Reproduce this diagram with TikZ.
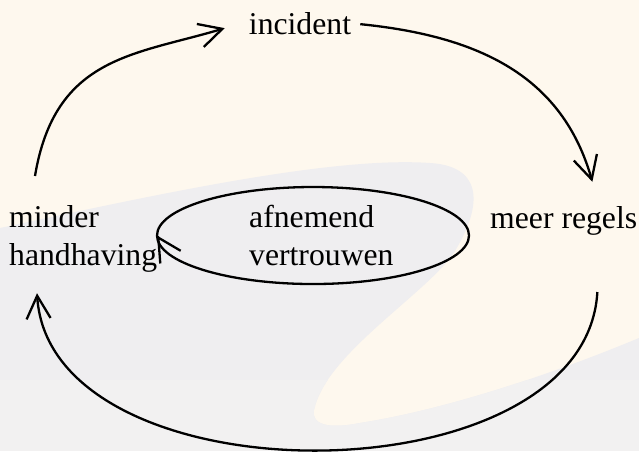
\documentclass[tikz,border=0pt]{standalone}
\usepackage{fontspec}
\setmainfont{Liberation Serif}
\usepackage{tikz}
\usetikzlibrary{arrows.meta}
\definecolor{cream}{RGB}{254,248,238}
\definecolor{swoosh}{RGB}{239,238,240}
\definecolor{swooshlow}{RGB}{242,241,241}

\begin{document}
\begin{tikzpicture}[
  x=1pt, y=1pt,
  mylabel/.style={inner sep=0pt, font=\fontsize{31.7}{38}\selectfont},
  myline/.style={line width=2.3pt},
  myarrow/.style={myline, -{Straight Barb[length=23pt, width=24pt]}},
]
\useasboundingbox (0,0) rectangle (639,451);
\fill[cream] (0,0) rectangle (639,451);
\begin{scope}
\path[clip] (0,223) .. controls (150,255) and (330,295) .. (430,288)
  .. controls (480,285) and (485,250) .. (455,200)
  .. controls (430,160) and (330,100) .. (315,45)
  .. controls (308,25) and (330,22) .. (360,28)
  .. controls (450,42) and (560,80) .. (639,113) -- (639,0) -- (0,0) -- cycle;
\fill[swoosh] (0,0) rectangle (639,451);
\fill[swooshlow] (0,0) rectangle (639,71);
\end{scope}

\node[mylabel, anchor=base] (incident) at (300,416) {incident};
\node[mylabel, anchor=base west] (regels) at (490,223) {meer regels};
\node[mylabel, anchor=north west, align=left] (minder) at (9,246) {minder\\handhaving};
\node[mylabel, anchor=north west, align=left] (trust) at (249,246) {afnemend\\vertrouwen};
\coordinate (loopend) at ([xshift=-92pt]trust.west);

\draw[myarrow] ([shift={(26,29)}]minder.north west) .. controls +(20,120) and +(-90,-27) .. ([shift={(-24,-4)}]incident.west);
\draw[myarrow] ([xshift=9pt]incident.east) .. controls +(120,-12) and +(-30,105) .. ([shift={(-45,24)}]regels.north east);
\draw[myarrow] ([shift={(-40,-57)}]regels.south east) .. controls +(-12,-210) and +(13,-210) .. ([shift={(28,-21)}]minder.south west);
% loop round the middle label
\draw[myline] (loopend) arc[start angle=180, end angle=-180, x radius=156pt, y radius=48.5pt];
\draw[myarrow] ([shift={(0.53,-0.85)}]loopend) -- (loopend);
\end{tikzpicture}
\end{document}
